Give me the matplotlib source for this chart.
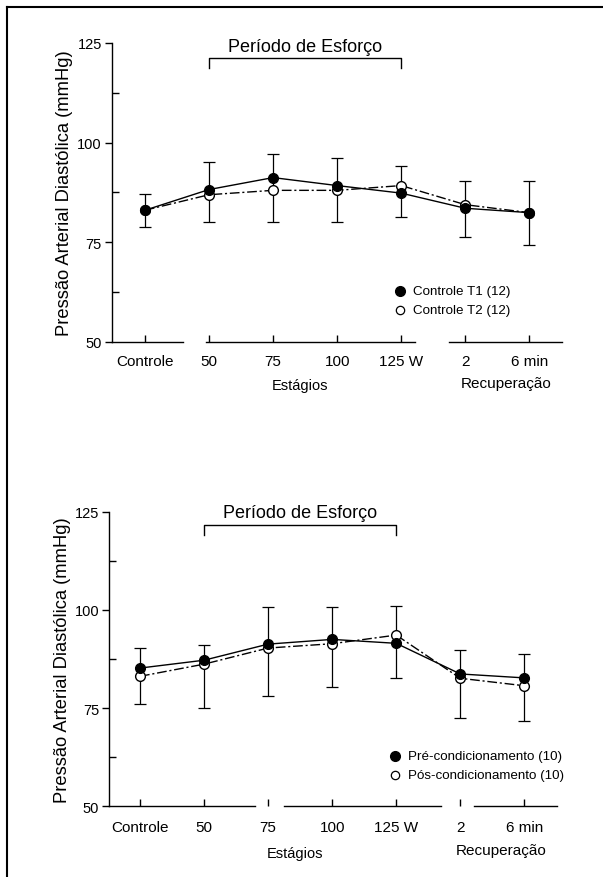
import matplotlib
matplotlib.use("Agg")
import matplotlib.pyplot as plt
from matplotlib.lines import Line2D
import numpy as np

plt.rcParams['font.family'] = ['Liberation Sans', 'DejaVu Sans']

# dados
estagios = ['Controle', '50', '75', '100', '125 W', '2', '6 min']

controle_t1 = [83.0, 88.2, 91.2, 89.2, 87.3, 83.5, 82.4]
controle_t2 = [83.0, 86.9, 88.0, 88.0, 89.2, 84.4, 82.4]
topo_sup = [87.0, 95.2, 97.2, 96.2, 94.2, 90.4, 90.4]
topo_inf = [78.9, 80.1, 80.1, 80.1, 81.2, 76.4, 74.4]

pre_cond = [85.2, 87.2, 91.3, 92.5, 91.5, 83.7, 82.7]
pos_cond = [83.1, 86.2, 90.3, 91.4, 93.6, 82.6, 80.7]
baixo_sup = [90.2, 91.2, 100.7, 100.7, 100.9, 89.9, 88.9]
baixo_inf = [76.0, 75.0, 78.2, 80.5, 82.6, 72.6, 71.6]

x = np.arange(len(estagios))

fig = plt.figure(figsize=(6.03, 8.78), dpi=100)

# moldura (so topo e esquerda aparecem)
fig.add_artist(Line2D([0.0116, 1.0], [0.9909, 0.9909], color='black', lw=1.5))
fig.add_artist(Line2D([0.0116, 0.0116], [0.0, 0.9909], color='black', lw=1.5))


def painel(rect, xlim, cheio, vazio, sup, inf, rot_cheio, rot_vazio,
           eixo_x, chave, txt_y, brk_y, leg_y, leg_x, est_y, rec_y, ypad):
    ax = fig.add_axes(rect)
    cheio = np.array(cheio)
    sup = np.array(sup)
    inf = np.array(inf)
    ax.errorbar(x, cheio, yerr=[cheio - inf, sup - cheio], fmt='none',
                ecolor='black', elinewidth=0.9, capsize=4.5, capthick=0.9, zorder=2)
    ax.plot(x, vazio, linestyle=(0, (7, 2, 1.5, 2)), color='black', lw=1.0,
            marker='o', ms=7, mfc='white', mec='black', mew=1.0, zorder=3)
    ax.plot(x, cheio, linestyle='-', color='black', lw=1.0,
            marker='o', ms=7, mfc='black', mec='black', zorder=4)

    ax.set_xlim(*xlim)
    ax.set_ylim(50, 125)
    for s in ['top', 'right', 'bottom']:
        ax.spines[s].set_visible(False)
    ax.spines['left'].set_linewidth(1.0)

    # eixo x interrompido
    for a, b in eixo_x:
        ax.plot([a, b], [50, 50], color='black', lw=1.0, clip_on=False, zorder=5)

    ax.set_yticks([50, 75, 100, 125])
    ax.set_yticks([62.5, 87.5, 112.5], minor=True)
    ax.tick_params(axis='y', which='major', direction='out', length=5,
                   width=1, labelsize=10.5, pad=2)
    ax.tick_params(axis='y', which='minor', direction='in', length=5, width=1)
    ax.set_xticks(x)
    ax.set_xticklabels(estagios)
    ax.tick_params(axis='x', direction='in', length=5, width=1,
                   labelsize=11, pad=ypad)

    ax.set_ylabel('Pressão Arterial Diastólica (mmHg)', fontsize=13.2, labelpad=3)

    ax.text(2.5, txt_y, 'Período de Esforço', fontsize=13, ha='center',
            va='center', clip_on=False)
    ax.plot([1, 1, 4, 4], [chave, brk_y, brk_y, chave], color='black',
            lw=1.0, clip_on=False)

    ax.text(2.42, est_y, 'Estágios', fontsize=10.5, ha='center', va='center',
            clip_on=False)
    ax.text(5.63, rec_y, 'Recuperação', fontsize=11, ha='center', va='center',
            clip_on=False)

    ax.plot([leg_x], [leg_y[0]], 'o', ms=7, mfc='black', mec='black')
    ax.plot([leg_x], [leg_y[1]], 'o', ms=6, mfc='white', mec='black', mew=0.9)
    ax.text(leg_x + 0.2, leg_y[0], rot_cheio, fontsize=9.6, va='center')
    ax.text(leg_x + 0.2, leg_y[1], rot_vazio, fontsize=9.6, va='center')
    return ax


painel([0.1852, 0.6097, 0.7463, 0.3402], (-0.519, 6.505),
       controle_t1, controle_t2, topo_sup, topo_inf,
       'Controle T1 (12)', 'Controle T2 (12)',
       [(-0.519, 0.59), (0.95, 4.22), (4.75, 6.505)],
       118.6, 124.0, 121.2, (62.8, 58.0), 3.98, 39.1, 39.6, 9)

painel([0.1808, 0.0805, 0.7425, 0.3355], (-0.484, 6.506),
       pre_cond, pos_cond, baixo_sup, baixo_inf,
       'Pré-condicionamento (10)', 'Pós-condicionamento (10)',
       [(-0.484, 1.8), (2.24, 4.7), (5.21, 6.506)],
       119.1, 124.7, 121.6, (62.9, 58.0), 3.98, 38.0, 38.9, 10)

fig.savefig('out.png', dpi=100)
